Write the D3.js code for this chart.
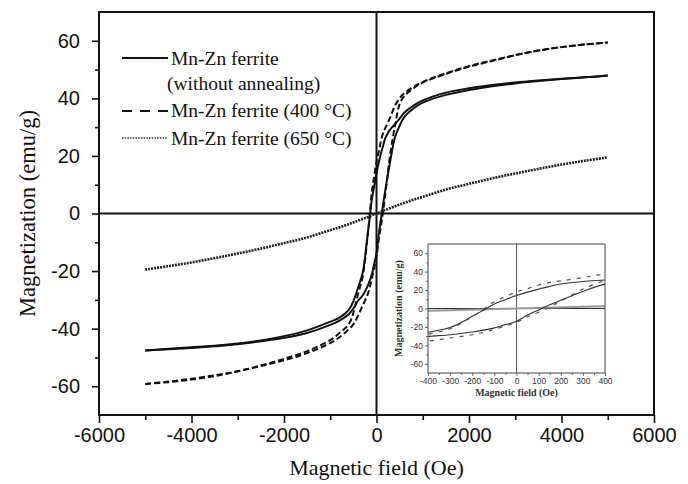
<!DOCTYPE html>
<html>
<head>
<meta charset="utf-8">
<script src="https://cdn.jsdelivr.net/npm/d3@7"></script>
<style>
  body { margin: 0; background: #fff; }
  .tick text { font-family: "Liberation Sans", Arial, sans-serif; fill: #111; }
  .serif { font-family: "Liberation Serif", "Times New Roman", serif; fill: #111; }
</style>
</head>
<body>
<svg id="chart" width="688" height="484"></svg>
<script>
// field values (Oe), shared by every branch
var fieldGrid = [-5000, -4500, -4000, -3500, -3000, -2500, -2000, -1500, -1000, -800, -600, -500, -400, -300, -200, -150, -100, -50,
    0, 50, 100, 150, 200, 300, 400, 500, 600, 800, 1000, 1500, 2000, 2500, 3000, 3500, 4000, 4500, 5000];

// without annealing (solid)
var solidUpper = [-47.6, -47.0, -46.5, -45.9, -45.2, -44.1, -42.6, -40.6, -37.6, -36.2, -33.5, -30.5, -25.8, -20.7, -8.5, -1.8, 5.0, 9.5,
    14.0, 17.8, 21.0, 24.0, 26.5, 29.3, 31.0, 33.0, 35.0, 37.5, 39.3, 42.0, 43.5, 44.6, 45.5, 46.2, 46.8, 47.3, 47.9];
var solidLower = [-47.6, -47.2, -46.7, -46.1, -45.4, -44.4, -43.2, -41.5, -38.7, -37.2, -35.0, -33.0, -30.3, -28.5, -25.5, -23.5, -21.0, -17.5,
    -13.8, -7.0, -1.5, 4.0, 9.0, 18.5, 26.5, 30.5, 33.5, 36.5, 38.5, 41.2, 42.9, 44.2, 45.2, 46.0, 46.7, 47.3, 47.9];

// 400 C (dashed)
var dashUpper = [-59.2, -58.4, -57.4, -56.2, -54.8, -52.8, -50.5, -47.8, -44.0, -41.5, -38.5, -34.5, -28.0, -22.0, -9.0, -1.0, 7.5, 13.0,
    18.0, 21.5, 25.5, 28.3, 30.0, 33.5, 37.5, 40.0, 41.8, 44.0, 45.7, 48.7, 51.2, 53.2, 55.0, 56.6, 57.8, 58.7, 59.4];
var dashLower = [-59.2, -58.6, -57.7, -56.5, -54.8, -53.0, -51.0, -48.5, -45.0, -43.0, -40.2, -38.5, -35.5, -32.0, -28.5, -26.0, -22.5, -19.0,
    -15.0, -9.0, -4.0, 1.5, 8.0, 21.0, 30.5, 38.0, 40.8, 43.5, 45.5, 48.5, 51.0, 53.0, 55.0, 56.6, 57.8, 58.7, 59.4];

// 650 C (dotted)
var dotCurve = [-19.5, -18.3, -17.0, -15.5, -13.9, -12.2, -10.3, -8.3, -5.8, -4.8, -3.7, -3.1, -2.5, -1.9, -1.3, -1.0, -0.6, -0.3,
    0, 0.3, 0.6, 1.0, 1.3, 1.9, 2.5, 3.1, 3.7, 4.8, 5.8, 8.3, 10.3, 12.2, 13.9, 15.5, 17.0, 18.3, 19.5];

var xMajor = [-6000, -4000, -2000, 0, 2000, 4000, 6000];
var xMinor = [-5000, -3000, -1000, 1000, 3000, 5000];
var yMajor = [-60, -40, -20, 0, 20, 40, 60];
var yMinor = [-50, -30, -10, 10, 30, 50];
var inXMajor = [-400, -300, -200, -100, 0, 100, 200, 300, 400];
var inXMinor = [-350, -250, -150, -50, 50, 150, 250, 350];
var inYMajor = [-60, -40, -20, 0, 20, 40, 60];
var inYMinor = [-50, -30, -10, 10, 30, 50];

var legendLabels = ['Mn-Zn ferrite', '(without annealing)', 'Mn-Zn ferrite (400 \u00B0C)', 'Mn-Zn ferrite (650 \u00B0C)'];

var svg = d3.select('#chart');

var x = d3.scaleLinear().domain([-6000, 6000]).range([99, 654]);
var y = d3.scaleLinear().domain([-70, 70]).range([415, 12]);

function branch(vals) {
    return fieldGrid.map(function (h, i) { return [h, vals[i]]; });
}

var series = [
    {vals: solidUpper, dash: null, width: 2, col: '#111'},
    {vals: solidLower, dash: null, width: 2, col: '#111'},
    {vals: dashUpper, dash: '6,3', width: 2, col: '#111'},
    {vals: dashLower, dash: '6,3', width: 2, col: '#111'},
    {vals: dotCurve, dash: '2,1', width: 2.6, col: '#222'}
];

// axes
var gx = svg.append('g').attr('transform', 'translate(0,415)');
gx.call(d3.axisBottom(x).tickValues(xMajor).tickSize(8).tickPadding(5).tickFormat(function (d) { return String(d); }));
gx.append('g').call(d3.axisBottom(x).tickValues(xMinor).tickSize(5).tickFormat(''));
gx.selectAll('.tick text').style('font-size', '20px');

var gy = svg.append('g').attr('transform', 'translate(99,0)');
gy.call(d3.axisLeft(y).tickValues(yMajor).tickSize(7).tickPadding(12).tickFormat(function (d) { return String(d); }));
gy.append('g').call(d3.axisLeft(y).tickValues(yMinor).tickSize(4).tickFormat(''));
gy.selectAll('.tick text').style('font-size', '20px');

svg.selectAll('.domain').remove();
svg.selectAll('.tick line').attr('stroke', '#111').attr('stroke-width', 1.6);

// zero lines
svg.append('line').attr('x1', x(-6000)).attr('x2', x(6000)).attr('y1', y(0)).attr('y2', y(0))
    .attr('stroke', '#111').attr('stroke-width', 2);
svg.append('line').attr('x1', x(0)).attr('x2', x(0)).attr('y1', y(70)).attr('y2', y(-70))
    .attr('stroke', '#111').attr('stroke-width', 2);

var line = d3.line()
    .x(function (d) { return x(d[0]); })
    .y(function (d) { return y(d[1]); })
    .curve(d3.curveCatmullRom.alpha(0.5));

series.forEach(function (s) {
    svg.append('path')
        .attr('d', line(branch(s.vals)))
        .attr('fill', 'none')
        .attr('stroke', s.col)
        .attr('stroke-width', s.width)
        .attr('stroke-dasharray', s.dash);
});

// frame
svg.append('rect').attr('x', 99).attr('y', 12).attr('width', 555).attr('height', 403)
    .attr('fill', 'none').attr('stroke', '#111').attr('stroke-width', 2);

// titles
svg.append('text').attr('class', 'serif')
    .attr('x', x(0)).attr('y', 475)
    .attr('text-anchor', 'middle')
    .style('font-size', '22px')
    .text('Magnetic field (Oe)');

svg.append('text').attr('class', 'serif')
    .attr('transform', 'translate(35,' + y(0) + ') rotate(-90)')
    .attr('text-anchor', 'middle')
    .style('font-size', '22.5px')
    .text('Magnetization (emu/g)');

// legend
var lg = svg.append('g');
lg.append('line').attr('x1', 122).attr('x2', 168).attr('y1', 58).attr('y2', 58)
    .attr('stroke', '#111').attr('stroke-width', 2);
lg.append('line').attr('x1', 122).attr('x2', 168).attr('y1', 111).attr('y2', 111)
    .attr('stroke', '#111').attr('stroke-width', 2).attr('stroke-dasharray', '10,8');
lg.append('line').attr('x1', 122).attr('x2', 168).attr('y1', 138).attr('y2', 138)
    .attr('stroke', '#333').attr('stroke-width', 1.4).attr('stroke-dasharray', '1.5,1.2');
var legendPos = [[171, 65], [167, 89.5], [171, 117], [171, 145]];
legendLabels.forEach(function (t, i) {
    lg.append('text').attr('class', 'serif')
        .attr('x', legendPos[i][0]).attr('y', legendPos[i][1])
        .style('font-size', '19.5px')
        .text(t);
});

// inset
var ix = d3.scaleLinear().domain([-400, 400]).range([428, 605]);
var iy = d3.scaleLinear().domain([-70, 70]).range([373, 244]);

var inset = svg.append('g');
inset.append('rect').attr('x', 428).attr('y', 244).attr('width', 177).attr('height', 129)
    .attr('fill', '#fff');

svg.append('clipPath').attr('id', 'inclip')
    .append('rect').attr('x', 428).attr('y', 244).attr('width', 177).attr('height', 129);

inset.append('line').attr('x1', ix(-400)).attr('x2', ix(400)).attr('y1', iy(0)).attr('y2', iy(0))
    .attr('stroke', '#333').attr('stroke-width', 1.2);
inset.append('line').attr('x1', ix(0)).attr('x2', ix(0)).attr('y1', iy(70)).attr('y2', iy(-70))
    .attr('stroke', '#555').attr('stroke-width', 1);

var iline = d3.line()
    .x(function (d) { return ix(d[0]); })
    .y(function (d) { return iy(d[1]); })
    .curve(d3.curveCatmullRom.alpha(0.5));

var ic = inset.append('g').attr('clip-path', 'url(#inclip)');
ic.append('path').attr('d', iline(branch(dotCurve))).attr('fill', 'none')
    .attr('stroke', '#999').attr('stroke-width', 2);
[dashUpper, dashLower].forEach(function (v) {
    ic.append('path').attr('d', iline(branch(v))).attr('fill', 'none')
        .attr('stroke', '#555').attr('stroke-width', 1.2).attr('stroke-dasharray', '4,6');
});
[solidUpper, solidLower].forEach(function (v) {
    ic.append('path').attr('d', iline(branch(v))).attr('fill', 'none')
        .attr('stroke', '#333').attr('stroke-width', 1.1);
});

inset.append('rect').attr('x', 428).attr('y', 244).attr('width', 177).attr('height', 129)
    .attr('fill', 'none').attr('stroke', '#444').attr('stroke-width', 1);

var igx = inset.append('g').attr('transform', 'translate(0,373)');
igx.call(d3.axisBottom(ix).tickValues(inXMajor).tickSize(3).tickPadding(2).tickFormat(function (d) { return String(d); }));
igx.append('g').call(d3.axisBottom(ix).tickValues(inXMinor).tickSize(2).tickFormat(''));
var igy = inset.append('g').attr('transform', 'translate(428,0)');
igy.call(d3.axisLeft(iy).tickValues(inYMajor).tickSize(3).tickPadding(2).tickFormat(function (d) { return String(d); }));
igy.append('g').call(d3.axisLeft(iy).tickValues(inYMinor).tickSize(2).tickFormat(''));
inset.selectAll('.domain').remove();
inset.selectAll('.tick line').attr('stroke', '#444').attr('stroke-width', 0.8);
inset.selectAll('.tick text').style('font-size', '8.5px').style('fill', '#333');

inset.append('text').attr('class', 'serif')
    .attr('x', ix(0)).attr('y', 396)
    .attr('text-anchor', 'middle')
    .style('font-size', '10px').style('font-weight', 'bold').style('fill', '#333')
    .text('Magnetic field (Oe)');
inset.append('text').attr('class', 'serif')
    .attr('transform', 'translate(402,' + iy(0) + ') rotate(-90)')
    .attr('text-anchor', 'middle')
    .style('font-size', '10px').style('font-weight', 'bold').style('fill', '#333')
    .text('Magnetization (emu/g)');
</script>
</body>
</html>
